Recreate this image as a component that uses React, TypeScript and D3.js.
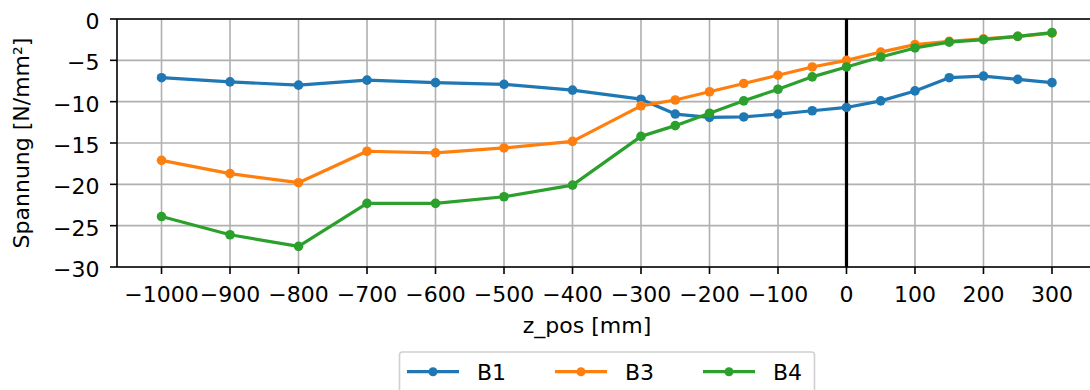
import React, { useEffect, useRef } from 'react';
import * as d3 from 'd3';

// z positions in mm
const zPos = [-1000, -900, -800, -700, -600, -500, -400, -300, -250, -200, -150, -100, -50, 0, 50, 100, 150, 200, 250, 300];

// stress values [N/mm²] per series
const b1 = [-7.1, -7.6, -8.0, -7.4, -7.7, -7.9, -8.6, -9.7, -11.5, -11.9, -11.85, -11.5, -11.1, -10.7, -9.9, -8.7, -7.1, -6.9, -7.3, -7.7];
const b3 = [-17.1, -18.7, -19.8, -16.0, -16.2, -15.6, -14.8, -10.5, -9.8, -8.8, -7.8, -6.8, -5.8, -5.0, -4.0, -3.1, -2.7, -2.4, -2.1, -1.7];
const b4 = [-23.9, -26.1, -27.5, -22.3, -22.3, -21.5, -20.1, -14.2, -12.9, -11.4, -9.9, -8.5, -7.0, -5.8, -4.6, -3.5, -2.8, -2.5, -2.1, -1.65];

const seriesNames = ['B1', 'B3', 'B4'];
const seriesColors = ['#1f77b4', '#ff7f0e', '#2ca02c'];
const seriesValues = [b1, b3, b4];

const xTicks = [-1000, -900, -800, -700, -600, -500, -400, -300, -200, -100, 0, 100, 200, 300];
const yTicks = [0, -5, -10, -15, -20, -25, -30];

const W = 1090;
const H = 390;
const FONT = '"DejaVu Sans", sans-serif';
const FS = 22;

const fmt = (v: number) => (v < 0 ? '\u2212' + Math.abs(v) : String(v));

export default function App() {
  const svgRef = useRef<SVGSVGElement>(null);

  useEffect(() => {
    const svg = d3.select(svgRef.current);
    svg.selectAll('*').remove();

    // axes box (right spine lies outside the picture)
    const x = d3.scaleLinear().domain([-1065, 365]).range([117, 1096.5]);
    const y = d3.scaleLinear().domain([-30, 0]).range([267, 19]);

    svg.append('rect').attr('width', W).attr('height', H).attr('fill', '#fff');

    // grid
    const grid = svg.append('g').attr('stroke', '#b0b0b0').attr('stroke-width', 1.6);
    xTicks.forEach(t => {
      grid.append('line').attr('x1', x(t)).attr('x2', x(t)).attr('y1', y(-30)).attr('y2', y(0));
    });
    yTicks.forEach(t => {
      grid.append('line').attr('x1', x(-1065)).attr('x2', W).attr('y1', y(t)).attr('y2', y(t));
    });

    // vertical line at z = 0
    svg.append('line')
      .attr('x1', x(0)).attr('x2', x(0))
      .attr('y1', y(-30)).attr('y2', y(0))
      .attr('stroke', '#000').attr('stroke-width', 3.2);

    // series
    const line = d3.line<number>()
      .x((_, i) => x(zPos[i]))
      .y(d => y(d));

    seriesValues.forEach((vals, si) => {
      const g = svg.append('g');
      g.append('path')
        .attr('d', line(vals))
        .attr('fill', 'none')
        .attr('stroke', seriesColors[si])
        .attr('stroke-width', 3.2)
        .attr('stroke-linejoin', 'round');
      g.selectAll('circle')
        .data(vals)
        .enter()
        .append('circle')
        .attr('cx', (_, i) => x(zPos[i]))
        .attr('cy', d => y(d))
        .attr('r', 4.8)
        .attr('fill', seriesColors[si]);
    });

    // spines
    const spine = svg.append('g').attr('stroke', '#000').attr('stroke-width', 1.6);
    spine.append('line').attr('x1', x(-1065)).attr('x2', x(-1065)).attr('y1', y(-30)).attr('y2', y(0));
    spine.append('line').attr('x1', x(-1065)).attr('x2', W).attr('y1', y(-30)).attr('y2', y(-30));
    spine.append('line').attr('x1', x(-1065)).attr('x2', W).attr('y1', y(0)).attr('y2', y(0));

    // x ticks
    const xg = svg.append('g').attr('font-family', FONT).attr('font-size', FS);
    xTicks.forEach(t => {
      xg.append('line').attr('x1', x(t)).attr('x2', x(t)).attr('y1', y(-30)).attr('y2', y(-30) + 7)
        .attr('stroke', '#000').attr('stroke-width', 1.6);
      xg.append('text').attr('x', x(t)).attr('y', 301.5).attr('text-anchor', 'middle').text(fmt(t));
    });

    // y ticks
    const yg = svg.append('g').attr('font-family', FONT).attr('font-size', FS);
    yTicks.forEach(t => {
      yg.append('line').attr('x1', x(-1065) - 7).attr('x2', x(-1065)).attr('y1', y(t)).attr('y2', y(t))
        .attr('stroke', '#000').attr('stroke-width', 1.6);
      yg.append('text').attr('x', 99.5).attr('y', y(t) + 10)
        .attr('text-anchor', 'end').text(fmt(t));
    });

    // axis labels
    svg.append('text')
      .attr('x', 587).attr('y', 333)
      .attr('text-anchor', 'middle')
      .attr('font-family', FONT).attr('font-size', FS)
      .text('z_pos [mm]');
    svg.append('text')
      .attr('transform', `translate(29,${(y(0) + y(-30)) / 2}) rotate(-90)`)
      .attr('text-anchor', 'middle')
      .attr('font-family', FONT).attr('font-size', FS)
      .text('Spannung [N/mm²]');

    // legend
    const lg = svg.append('g');
    lg.append('rect')
      .attr('x', 399.5).attr('y', 352).attr('width', 415).attr('height', 50).attr('rx', 3)
      .attr('fill', '#fff').attr('stroke', '#d0d0d0').attr('stroke-width', 1.6);
    seriesNames.forEach((name, i) => {
      const x0 = 407 + i * 148;
      lg.append('line').attr('x1', x0).attr('x2', x0 + 52).attr('y1', 371.7).attr('y2', 371.7)
        .attr('stroke', seriesColors[i]).attr('stroke-width', 3.2);
      lg.append('circle').attr('cx', x0 + 26).attr('cy', 371.7).attr('r', 4.5).attr('fill', seriesColors[i]);
      lg.append('text').attr('x', x0 + 70).attr('y', 379.5)
        .attr('font-family', FONT).attr('font-size', FS).text(name);
    });
  }, []);

  return (
    <svg
      ref={svgRef}
      width={W}
      height={H}
      style={{ position: 'absolute', left: 0, top: 0, display: 'block' }}
    ></svg>
  );
}
